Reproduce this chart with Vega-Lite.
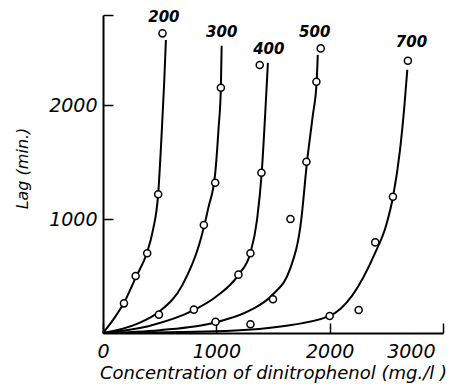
{
  "$schema": "https://vega.github.io/schema/vega-lite/v6.json",
  "autosize": {"type": "none"},
  "padding": {"left": 103, "top": 15, "right": 25, "bottom": 55},
  "width": 340,
  "height": 318,
  "background": "white",
  "config": {
    "view": {"stroke": null},
    "font": "DejaVu Sans"
  },
  "datasets": {
    "curves": [
      {"series": "200", "x": 0, "y": 0},
      {"series": "200", "x": 100, "y": 130},
      {"series": "200", "x": 185, "y": 265},
      {"series": "200", "x": 290, "y": 490},
      {"series": "200", "x": 390, "y": 710},
      {"series": "200", "x": 440, "y": 900},
      {"series": "200", "x": 487, "y": 1220},
      {"series": "200", "x": 515, "y": 1700},
      {"series": "200", "x": 540, "y": 2200},
      {"series": "200", "x": 555, "y": 2570},
      {"series": "300", "x": 0, "y": 0},
      {"series": "300", "x": 300, "y": 80},
      {"series": "300", "x": 500, "y": 190},
      {"series": "300", "x": 700, "y": 420},
      {"series": "300", "x": 850, "y": 780},
      {"series": "300", "x": 930, "y": 1100},
      {"series": "300", "x": 990, "y": 1400},
      {"series": "300", "x": 1020, "y": 1800},
      {"series": "300", "x": 1040, "y": 2150},
      {"series": "300", "x": 1047, "y": 2520},
      {"series": "400", "x": 0, "y": 0},
      {"series": "400", "x": 400, "y": 60},
      {"series": "400", "x": 800, "y": 200},
      {"series": "400", "x": 1000, "y": 320},
      {"series": "400", "x": 1195, "y": 510},
      {"series": "400", "x": 1300, "y": 700},
      {"series": "400", "x": 1360, "y": 1000},
      {"series": "400", "x": 1400, "y": 1400},
      {"series": "400", "x": 1430, "y": 1900},
      {"series": "400", "x": 1455, "y": 2370},
      {"series": "500", "x": 0, "y": 0},
      {"series": "500", "x": 500, "y": 25},
      {"series": "500", "x": 1000, "y": 95},
      {"series": "500", "x": 1300, "y": 200},
      {"series": "500", "x": 1500, "y": 340},
      {"series": "500", "x": 1650, "y": 560},
      {"series": "500", "x": 1750, "y": 1000},
      {"series": "500", "x": 1800, "y": 1500},
      {"series": "500", "x": 1850, "y": 1900},
      {"series": "500", "x": 1885, "y": 2200},
      {"series": "500", "x": 1895, "y": 2440},
      {"series": "700", "x": 0, "y": 0},
      {"series": "700", "x": 1000, "y": 15},
      {"series": "700", "x": 1550, "y": 55},
      {"series": "700", "x": 2000, "y": 150},
      {"series": "700", "x": 2200, "y": 330},
      {"series": "700", "x": 2400, "y": 700},
      {"series": "700", "x": 2500, "y": 950},
      {"series": "700", "x": 2560, "y": 1200},
      {"series": "700", "x": 2620, "y": 1600},
      {"series": "700", "x": 2660, "y": 2000},
      {"series": "700", "x": 2685, "y": 2310}
    ],
    "points": [
      {"x": 185, "y": 260}, {"x": 288, "y": 500}, {"x": 390, "y": 699}, {"x": 487, "y": 1217}, {"x": 525, "y": 2629},
      {"x": 493, "y": 161}, {"x": 890, "y": 947}, {"x": 990, "y": 1318}, {"x": 1040, "y": 2152},
      {"x": 802, "y": 205}, {"x": 1195, "y": 512}, {"x": 1301, "y": 699}, {"x": 1398, "y": 1406}, {"x": 1383, "y": 2351},
      {"x": 993, "y": 99}, {"x": 1500, "y": 296}, {"x": 1654, "y": 1000}, {"x": 1795, "y": 1503}, {"x": 1883, "y": 2205}, {"x": 1921, "y": 2497},
      {"x": 1301, "y": 76}, {"x": 2000, "y": 149}, {"x": 2256, "y": 202}, {"x": 2402, "y": 795}, {"x": 2558, "y": 1196}, {"x": 2690, "y": 2389}
    ],
    "labels": [
      {"text": "200", "x": 537, "y": 2772},
      {"text": "300", "x": 1048, "y": 2640},
      {"text": "400", "x": 1463, "y": 2491},
      {"text": "500", "x": 1868, "y": 2640},
      {"text": "700", "x": 2722, "y": 2553}
    ]
  },
  "layer": [
    {
      "data": {"name": "curves"},
      "mark": {"type": "line", "interpolate": "monotone", "color": "black", "strokeWidth": 2},
      "encoding": {
        "x": {
          "field": "x", "type": "quantitative",
          "scale": {"domain": [0, 3000], "nice": false},
          "axis": {
            "values": [0, 1000, 2000, 3000],
            "format": "d",
            "grid": false,
            "domainColor": "black", "domainWidth": 2,
            "tickColor": "black", "tickWidth": 1.5, "tickSize": -10,
            "labelFont": "DejaVu Sans", "labelFontStyle": "italic", "labelFontSize": 19, "labelColor": "black",
            "labelPadding": 19,
            "labelAlign": {"expr": "datum.value == 3000 ? 'right' : 'center'"},
            "labelOffset": {"expr": "datum.value == 3000 ? -8 : 0"},
            "labelFlush": false,
            "title": "Concentration of dinitrophenol (mg./l )",
            "titleFont": "DejaVu Sans", "titleFontStyle": "italic", "titleFontWeight": "normal", "titleFontSize": 18, "titleColor": "black",
            "titleY": 40, "titleBaseline": "middle"
          }
        },
        "y": {
          "field": "y", "type": "quantitative",
          "scale": {"domain": [0, 2790], "nice": false},
          "axis": {
            "values": [1000, 2000, 2790],
            "format": "d",
            "labelExpr": "datum.value == 2790 ? '' : datum.label",
            "grid": false,
            "domainColor": "black", "domainWidth": 2,
            "tickColor": "black", "tickWidth": 1.5, "tickSize": -10,
            "labelFont": "DejaVu Sans", "labelFontStyle": "italic", "labelFontSize": 19, "labelColor": "black",
            "labelPadding": 16,
            "title": "Lag (min.)",
            "titleFont": "DejaVu Sans", "titleFontStyle": "italic", "titleFontWeight": "normal", "titleFontSize": 16, "titleColor": "black",
            "titleX": -81, "titleY": 153, "titleBaseline": "middle", "titleAlign": "center"
          }
        },
        "detail": {"field": "series", "type": "nominal"}
      }
    },
    {
      "data": {"name": "points"},
      "mark": {"type": "point", "shape": "circle", "size": 50, "filled": false, "fill": "white", "fillOpacity": 1, "stroke": "black", "strokeWidth": 1.5},
      "encoding": {
        "x": {"field": "x", "type": "quantitative"},
        "y": {"field": "y", "type": "quantitative"}
      }
    },
    {
      "data": {"name": "labels"},
      "mark": {"type": "text", "font": "DejaVu Sans", "fontStyle": "italic", "fontSize": 15, "fontWeight": "bold", "color": "black", "align": "center", "baseline": "middle"},
      "encoding": {
        "x": {"field": "x", "type": "quantitative"},
        "y": {"field": "y", "type": "quantitative"},
        "text": {"field": "text", "type": "nominal"}
      }
    }
  ]
}
